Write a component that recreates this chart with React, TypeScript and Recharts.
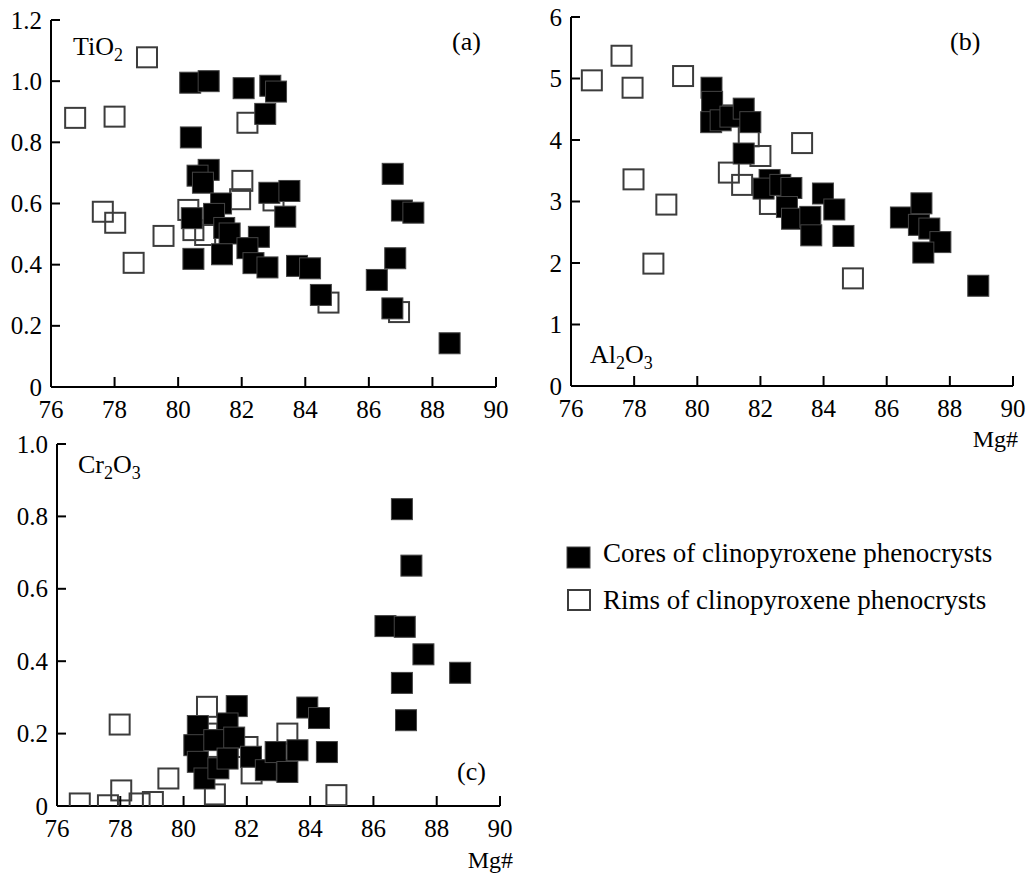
import React from 'react';
import { ScatterChart, Scatter, XAxis, YAxis } from 'recharts';

// ---------- data ----------
const mgTicks = [76, 78, 80, 82, 84, 86, 88, 90];
const tio2Ticks = [0, 0.2, 0.4, 0.6, 0.8, 1.0, 1.2];
const tio2TickLabels = ['0', '0.2', '0.4', '0.6', '0.8', '1.0', '1.2'];
const al2o3Ticks = [0, 1, 2, 3, 4, 5, 6];
const al2o3TickLabels = ['0', '1', '2', '3', '4', '5', '6'];
const cr2o3Ticks = [0, 0.2, 0.4, 0.6, 0.8, 1.0];
const cr2o3TickLabels = ['0', '0.2', '0.4', '0.6', '0.8', '1.0'];

// [Mg#, TiO2]
const tio2Cores: [number, number][] = [
  [80.38, 0.995], [80.96, 1.0], [82.06, 0.977], [82.9, 0.985], [83.08, 0.966], [82.74, 0.893],
  [80.4, 0.816], [80.96, 0.71], [80.61, 0.691], [80.78, 0.668], [81.35, 0.6], [82.87, 0.635],
  [83.5, 0.641], [83.37, 0.557], [80.43, 0.552], [81.13, 0.566], [81.45, 0.52], [81.62, 0.502],
  [82.54, 0.491], [80.48, 0.419], [81.38, 0.434], [82.18, 0.454], [82.37, 0.405], [82.81, 0.391],
  [83.74, 0.396], [84.15, 0.388], [84.49, 0.301], [86.75, 0.697], [87.04, 0.577], [87.4, 0.57],
  [86.83, 0.421], [86.25, 0.35], [86.74, 0.257], [88.54, 0.143],
];
const tio2Rims: [number, number][] = [
  [76.76, 0.88], [78.0, 0.884], [79.02, 1.078], [77.63, 0.573], [78.02, 0.537], [79.54, 0.494],
  [78.6, 0.406], [82.18, 0.864], [82.02, 0.674], [81.95, 0.614], [84.73, 0.276], [86.95, 0.245],
  [80.32, 0.579], [80.48, 0.513], [80.85, 0.497], [83.0, 0.61],
];

// [Mg#, Al2O3]
const al2o3Cores: [number, number][] = [
  [80.45, 4.85], [80.47, 4.62], [80.44, 4.29], [80.74, 4.32], [81.05, 4.38], [81.47, 4.51],
  [81.68, 4.29], [81.47, 3.78], [82.29, 3.35], [82.1, 3.21], [82.63, 3.27], [82.98, 3.22],
  [82.84, 2.91], [83.0, 2.72], [83.58, 2.75], [83.98, 3.13], [84.34, 2.87], [83.61, 2.45],
  [84.63, 2.44], [86.45, 2.74], [87.1, 2.97], [87.02, 2.62], [87.35, 2.56], [87.7, 2.34],
  [87.16, 2.17], [88.9, 1.63],
];
const al2o3Rims: [number, number][] = [
  [76.66, 4.97], [77.6, 5.37], [77.95, 4.85], [79.55, 5.04], [77.98, 3.36], [79.02, 2.95],
  [78.61, 1.99], [83.32, 3.95], [84.93, 1.75], [81.0, 3.47], [81.42, 3.27], [82.0, 3.74],
  [82.3, 2.96], [81.63, 4.06], [80.9, 4.4],
];

// [Mg#, Cr2O3]
const cr2o3Cores: [number, number][] = [
  [86.9, 0.82], [87.2, 0.664], [86.38, 0.497], [86.99, 0.495], [87.58, 0.419], [86.9, 0.34],
  [88.74, 0.368], [87.03, 0.237], [83.91, 0.272], [84.28, 0.243], [84.53, 0.149],
  [81.68, 0.276], [81.39, 0.228], [80.45, 0.221], [80.34, 0.168], [80.97, 0.182], [81.6, 0.189],
  [80.45, 0.122], [80.66, 0.076], [81.1, 0.104], [81.39, 0.131], [82.13, 0.136], [82.6, 0.099],
  [82.91, 0.149], [83.6, 0.154], [83.28, 0.094],
];
const cr2o3Rims: [number, number][] = [
  [76.72, 0.007], [77.61, 0.002], [78.03, 0.043], [77.98, 0.225], [78.61, 0.007], [79.03, 0.011],
  [79.52, 0.076], [80.99, 0.032], [84.83, 0.03], [80.74, 0.274], [83.28, 0.2], [82.15, 0.09],
  [80.75, 0.2], [82.02, 0.163], [81.08, 0.108], [83.23, 0.099],
];

const legendLabels = ['Cores of clinopyroxene phenocrysts', 'Rims of clinopyroxene phenocrysts'];

// ---------- helpers ----------
const FONT = "'Liberation Serif', 'Times New Roman', serif";
const toPts = (a: [number, number][]) => a.map(([x, y]) => ({ x, y }));

const FilledSquare = (p: any) => (
  <rect x={p.cx - 10.5} y={p.cy - 10.5} width={21} height={21} fill="#000" stroke="#444" strokeWidth={1} />
);
const OpenSquare = (p: any) => (
  <rect x={p.cx - 10} y={p.cy - 10} width={20} height={20} fill="none" stroke="#3c3c3c" strokeWidth={2} />
);

const makeXTick = () => (props: any) => {
  const { x, y, payload } = props;
  return (
    <g>
      <line x1={x} x2={x} y1={y} y2={y - 10} stroke="#000" strokeWidth={2} />
      <text x={x} y={y + 31} textAnchor="middle" fontFamily={FONT} fontSize={25} fill="#000">
        {payload.value}
      </text>
    </g>
  );
};

const makeYTick = (ticks: number[], labels: string[]) => (props: any) => {
  const { x, y, payload } = props;
  const i = ticks.findIndex((t) => Math.abs(t - payload.value) < 1e-9);
  return (
    <g>
      <line x1={x} x2={x + 9} y1={y} y2={y} stroke="#000" strokeWidth={2} />
      <text x={x - 9} y={y + 8.5} textAnchor="end" fontFamily={FONT} fontSize={25} fill="#000">
        {i >= 0 ? labels[i] : payload.value}
      </text>
    </g>
  );
};

type PanelProps = {
  left: number; top: number; width: number; height: number;
  margin: { top: number; right: number; bottom: number; left: number };
  yWidth: number; xHeight: number;
  yDomain: [number, number]; yTicks: number[]; yLabels: string[];
  cores: [number, number][]; rims: [number, number][];
};

const Panel = (p: PanelProps) => (
  <div style={{ position: 'absolute', left: p.left, top: p.top }}>
    <ScatterChart width={p.width} height={p.height} margin={p.margin}>
      <XAxis
        type="number" dataKey="x" domain={[76, 90]} ticks={mgTicks} interval={0}
        height={p.xHeight} tickSize={0} tickMargin={0} tickLine={false}
        axisLine={{ stroke: '#000', strokeWidth: 2 }} tick={makeXTick()} allowDataOverflow
      />
      <YAxis
        type="number" dataKey="y" domain={p.yDomain} ticks={p.yTicks} interval={0}
        width={p.yWidth} tickSize={0} tickMargin={0} tickLine={false}
        axisLine={{ stroke: '#000', strokeWidth: 2 }} tick={makeYTick(p.yTicks, p.yLabels)} allowDataOverflow
      />
      <Scatter data={toPts(p.rims)} shape={OpenSquare} isAnimationActive={false} />
      <Scatter data={toPts(p.cores)} shape={FilledSquare} isAnimationActive={false} />
    </ScatterChart>
  </div>
);

const Sub = ({ c }: { c: string }) => (
  <tspan fontSize={18} dy={6}>{c}</tspan>
);

export default function App() {
  return (
    <div style={{ position: 'absolute', left: 0, top: 0, width: 1030, height: 875, background: '#fff', fontFamily: FONT }}>
      <Panel
        left={0} top={0} width={520} height={430}
        margin={{ top: 20, right: 24, bottom: 0, left: 0 }} yWidth={51} xHeight={43}
        yDomain={[0, 1.2]} yTicks={tio2Ticks} yLabels={tio2TickLabels}
        cores={tio2Cores} rims={tio2Rims}
      />
      <Panel
        left={520} top={0} width={510} height={450}
        margin={{ top: 17, right: 17, bottom: 0, left: 0 }} yWidth={51} xHeight={64}
        yDomain={[0, 6]} yTicks={al2o3Ticks} yLabels={al2o3TickLabels}
        cores={al2o3Cores} rims={al2o3Rims}
      />
      <Panel
        left={0} top={425} width={530} height={450}
        margin={{ top: 19, right: 30, bottom: 0, left: 0 }} yWidth={57} xHeight={69}
        yDomain={[0, 1.0]} yTicks={cr2o3Ticks} yLabels={cr2o3TickLabels}
        cores={cr2o3Cores} rims={cr2o3Rims}
      />
      <svg width={1030} height={875} style={{ position: 'absolute', left: 0, top: 0, pointerEvents: 'none' }}>
        <g fontFamily={FONT} fill="#000" fontSize={26}>
          <text x={73} y={55}>TiO<Sub c="2" /></text>
          <text x={452} y={50}>(a)</text>
          <text x={950} y={50}>(b)</text>
          <text x={590} y={363}>Al<Sub c="2" /><tspan dy={-6}>O</tspan><Sub c="3" /></text>
          <text x={1018} y={447} textAnchor="end" fontSize={24}>Mg#</text>
          <text x={78} y={473}>Cr<Sub c="2" /><tspan dy={-6}>O</tspan><Sub c="3" /></text>
          <text x={457} y={780}>(c)</text>
          <text x={513} y={868} textAnchor="end" fontSize={24}>Mg#</text>
        </g>
        <g>
          <rect x={567} y={547} width={23} height={21} fill="#000" stroke="#444" strokeWidth={1} />
          <rect x={568} y={590} width={22} height={20} fill="none" stroke="#3c3c3c" strokeWidth={2} />
          <text x={603} y={562} fontFamily={FONT} fontSize={27} fill="#000">{legendLabels[0]}</text>
          <text x={603} y={609} fontFamily={FONT} fontSize={27} fill="#000">{legendLabels[1]}</text>
        </g>
      </svg>
    </div>
  );
}
